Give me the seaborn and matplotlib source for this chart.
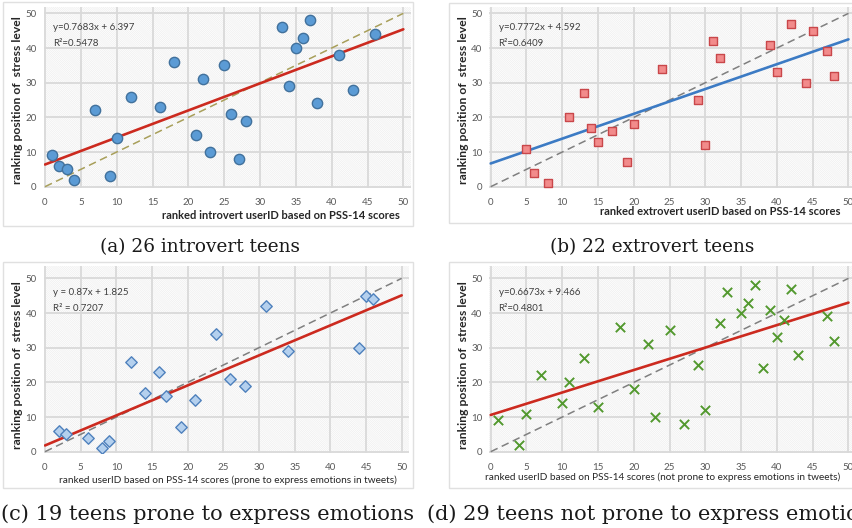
import seaborn as sns
import matplotlib.pyplot as plt
from matplotlib.patches import Rectangle
from matplotlib.transforms import blended_transform_factory

# (a) introvert teens
intro_x = [1, 2, 3, 4, 7, 9, 10, 12, 16, 18, 21, 22, 23, 25, 26, 27, 28, 33, 34, 35, 36, 37, 38, 41, 43, 46]
intro_y = [9, 6, 5, 2, 22, 3, 14, 26, 23, 36, 15, 31, 10, 35, 21, 8, 19, 46, 29, 40, 43, 48, 24, 38, 28, 44]
# (b) extrovert teens
extro_x = [5, 6, 8, 11, 13, 14, 15, 17, 19, 20, 24, 29, 30, 31, 32, 39, 40, 42, 44, 45, 47, 48]
extro_y = [11, 4, 1, 20, 27, 17, 13, 16, 7, 18, 34, 25, 12, 42, 37, 41, 33, 47, 30, 45, 39, 32]
# (c) prone to express emotions
prone_x = [2, 3, 6, 8, 9, 12, 14, 16, 17, 19, 21, 24, 26, 28, 31, 34, 44, 45, 46]
prone_y = [6, 5, 4, 1, 3, 26, 17, 23, 16, 7, 15, 34, 21, 19, 42, 29, 30, 45, 44]
# (d) not prone to express emotions
notprone_x = [1, 4, 5, 7, 10, 11, 13, 15, 18, 20, 22, 23, 25, 27, 29, 30, 32, 33, 35, 36,
              37, 38, 39, 40, 41, 42, 43, 47, 48]
notprone_y = [9, 2, 11, 22, 14, 20, 27, 13, 36, 18, 31, 10, 35, 8, 25, 12, 37, 46, 40, 43,
              48, 24, 41, 33, 38, 47, 28, 39, 32]

# trend lines as drawn in the picture (value at x=0 and x=50)
trend_x = [0, 50]
trend_a = [6.4, 45.4]
trend_b = [6.7, 42.5]
trend_c = [1.8, 45.1]
trend_d = [10.6, 43.0]
ideal = [0, 50]

equations = ["y=0.7683x + 6.397", "y=0.7772x + 4.592", "y = 0.87x + 1.825", "y=0.6673x + 9.466"]
r_squared = ["R²=0.5478", "R²=0.6409", "R² = 0.7207", "R²=0.4801"]
x_labels = ["ranked introvert userID based on PSS-14 scores",
            "ranked extrovert userID based on PSS-14 scores",
            "ranked userID based on PSS-14 scores (prone to express emotions in tweets)",
            "ranked userID based on PSS-14 scores (not prone to express emotions in tweets)"]
y_label = "ranking position of  stress level"
captions = ["(a) 26 introvert teens", "(b) 22 extrovert teens",
            "(c) 19 teens prone to express emotions", "(d) 29 teens not prone to express emotions"]
x_ticks = list(range(0, 51, 5))
y_ticks = list(range(0, 51, 10))

sns.set_theme(style="white")
plt.rcParams["font.family"] = ["Lato", "DejaVu Sans"]
plt.rcParams["hatch.linewidth"] = 0.5

W, H = 852, 528
fig = plt.figure(figsize=(W / 100, H / 100), dpi=100)

# chart frames (excel chart area borders), pixels: left, top, right, bottom
frames = [(3, 2, 413, 226), (449, 3, 860, 223), (3, 262, 413, 488), (449, 262, 860, 488)]
for l, t, r, b in frames:
    fig.add_artist(Rectangle((l / W, 1 - b / H), (r - l) / W, (b - t) / H,
                             transform=fig.transFigure, fill=False,
                             edgecolor="#e0e0e0", lw=1))

# pixel position of data (0, 0) and pixels per unit
origins = [(45, 186.7), (490.7, 186.7), (45, 451.7), (490.7, 451.7)]
x_scales = [7.167, 7.156, 7.134, 7.156]
y_scale = 3.467
y_tops = [51.8, 51.8, 53.5, 53.5]
x_lim = (-0.2, 51)
y_bottom = -0.4

panels = [
    dict(x=intro_x, y=intro_y, trend=trend_a, line="#cc2a1f", diag="#a89f5a",
         marker="o", s=55, fc="#5b9bd5", ec="#41719c", bold=True, lx=49.5, ly=-8.4),
    dict(x=extro_x, y=extro_y, trend=trend_b, line="#3c7bc4", diag="#7f7f7f",
         marker="s", s=36, fc="#f28b8b", ec="#c9474a", bold=True, lx=48.9, ly=-7.2),
    dict(x=prone_x, y=prone_y, trend=trend_c, line="#cc2a1f", diag="#7f7f7f",
         marker="D", s=34, fc="#b4d0ee", ec="#4f81bd", bold=False, lx=49.3, ly=-8.1),
    dict(x=notprone_x, y=notprone_y, trend=trend_d, line="#cc2a1f", diag="#7f7f7f",
         marker="x", s=45, fc="#53992f", ec="#53992f", bold=False, lx=48.9, ly=-7.4),
]

for i, p in enumerate(panels):
    ox, oy = origins[i]
    xs = x_scales[i]
    left = ox + x_lim[0] * xs
    width = (x_lim[1] - x_lim[0]) * xs
    bottom = oy - y_bottom * y_scale
    height = (y_tops[i] - y_bottom) * y_scale
    ax = fig.add_axes([left / W, 1 - bottom / H, width / W, height / H])

    # hatched plot area
    ax.add_patch(Rectangle((0, 0), 1, 1, transform=ax.transAxes, facecolor="white",
                           edgecolor="#eeeeee", hatch="\\" * 16, lw=0, zorder=0))

    sns.lineplot(x=ideal, y=ideal, ax=ax, color=p["diag"], lw=1.1, dashes=(5, 3),
                 zorder=2)
    sns.lineplot(x=trend_x, y=p["trend"], ax=ax, color=p["line"], lw=1.9, zorder=3)
    if p["marker"] == "x":
        sns.scatterplot(x=p["x"], y=p["y"], ax=ax, marker="x", s=p["s"],
                        color=p["fc"], linewidth=1.4, zorder=4)
    else:
        sns.scatterplot(x=p["x"], y=p["y"], ax=ax, marker=p["marker"], s=p["s"],
                        color=p["fc"], edgecolor=p["ec"], linewidth=1.0, zorder=4)

    ax.set_xlim(*x_lim)
    ax.set_ylim(y_bottom, y_tops[i])
    ax.set_xticks(x_ticks)
    ax.set_yticks(y_ticks)
    ax.grid(True, color="#d9d9d9", lw=1.3)
    ax.set_axisbelow(True)
    for sp in ax.spines.values():
        sp.set_visible(False)
    ax.tick_params(length=0, labelsize=7, labelcolor="#595959", pad=5)
    ax.tick_params(axis="x", pad=7)

    ax.set_ylabel(y_label, fontsize=8.7, fontweight="bold", color="#262626")
    ax.yaxis.set_label_coords(-0.056, 25,
                              transform=blended_transform_factory(ax.transAxes, ax.transData))
    ax.text(p["lx"], p["ly"], x_labels[i], ha="right", va="center", fontsize=8 if p["bold"] else 7.2,
            fontweight="bold" if p["bold"] else "normal", color="#262626", clip_on=False)

    ax.text(1.1, 45.8, equations[i], fontsize=7, color="#404040", va="center")
    ax.text(1.1, 41.2, r_squared[i], fontsize=7, color="#404040", va="center")

# sub-figure captions
cap_pos = [(200, 247, "center", 13.3), (652, 247, "center", 13.3),
           (1, 514, "left", 15), (427, 514, "left", 15)]
for (cx, cy, ha, fs), cap in zip(cap_pos, captions):
    fig.text(cx / W, 1 - cy / H, cap, ha=ha, va="center", fontsize=fs,
             family="DejaVu Serif", color="#1a1a1a")

fig.savefig("out.png", dpi=100)
